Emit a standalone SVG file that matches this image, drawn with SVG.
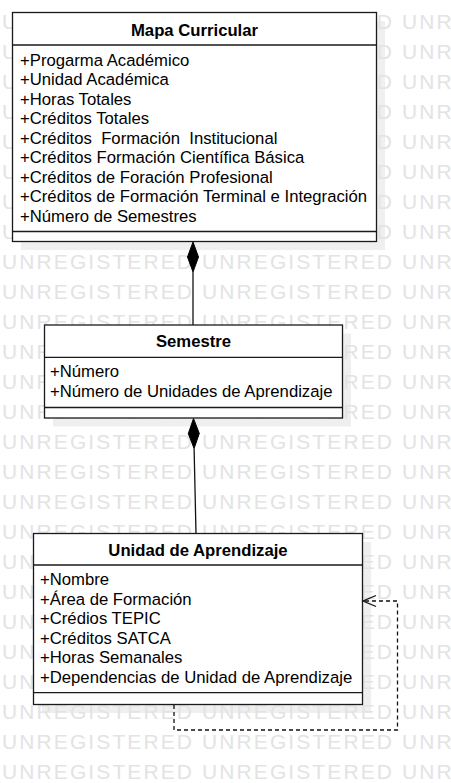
<svg xmlns="http://www.w3.org/2000/svg" width="451" height="783" viewBox="0 0 451 783">
<style>
.bg{fill:#ffffff}
.shadow{fill:#efefef}
.wm{font-family:"Liberation Sans",Arial,sans-serif;font-size:21px;letter-spacing:2.1px;fill:#e3e3e3}
.box{fill:#ffffff;stroke:#1a1a1a;stroke-width:1.3}
.div{stroke:#1a1a1a;stroke-width:1.3;fill:none}
.title{font-family:"Liberation Sans",Arial,sans-serif;font-size:16.7px;font-weight:bold;fill:#000;text-anchor:middle}
.attr{font-family:"Liberation Sans",Arial,sans-serif;font-size:16.7px;fill:#000}
.line{stroke:#111;stroke-width:1.3;fill:none}
.dash{stroke:#111;stroke-width:1.3;fill:none;stroke-dasharray:4 3}
.dia{fill:#000;stroke:#000;stroke-width:1}
</style>
<rect class="bg" x="0" y="0" width="451" height="783"/>
<g id="shadows">
<rect class="shadow" x="21" y="21" width="364" height="229"/>
<rect class="shadow" x="53" y="333.5" width="298" height="93"/>
<rect class="shadow" x="42" y="542" width="329" height="171"/>
</g>
<g id="watermark">
<text class="wm" x="2" y="29">UNREGISTERED UNREGISTERED UNR</text>
<text class="wm" x="2" y="59">UNREGISTERED UNREGISTERED UNR</text>
<text class="wm" x="2" y="89">UNREGISTERED UNREGISTERED UNR</text>
<text class="wm" x="2" y="119">UNREGISTERED UNREGISTERED UNR</text>
<text class="wm" x="2" y="149">UNREGISTERED UNREGISTERED UNR</text>
<text class="wm" x="2" y="179">UNREGISTERED UNREGISTERED UNR</text>
<text class="wm" x="2" y="209">UNREGISTERED UNREGISTERED UNR</text>
<text class="wm" x="2" y="239">UNREGISTERED UNREGISTERED UNR</text>
<text class="wm" x="2" y="269">UNREGISTERED UNREGISTERED UNR</text>
<text class="wm" x="2" y="299">UNREGISTERED UNREGISTERED UNR</text>
<text class="wm" x="2" y="329">UNREGISTERED UNREGISTERED UNR</text>
<text class="wm" x="2" y="359">UNREGISTERED UNREGISTERED UNR</text>
<text class="wm" x="2" y="389">UNREGISTERED UNREGISTERED UNR</text>
<text class="wm" x="2" y="419">UNREGISTERED UNREGISTERED UNR</text>
<text class="wm" x="2" y="449">UNREGISTERED UNREGISTERED UNR</text>
<text class="wm" x="2" y="479">UNREGISTERED UNREGISTERED UNR</text>
<text class="wm" x="2" y="509">UNREGISTERED UNREGISTERED UNR</text>
<text class="wm" x="2" y="539">UNREGISTERED UNREGISTERED UNR</text>
<text class="wm" x="2" y="569">UNREGISTERED UNREGISTERED UNR</text>
<text class="wm" x="2" y="599">UNREGISTERED UNREGISTERED UNR</text>
<text class="wm" x="2" y="629">UNREGISTERED UNREGISTERED UNR</text>
<text class="wm" x="2" y="659">UNREGISTERED UNREGISTERED UNR</text>
<text class="wm" x="2" y="689">UNREGISTERED UNREGISTERED UNR</text>
<text class="wm" x="2" y="719">UNREGISTERED UNREGISTERED UNR</text>
<text class="wm" x="2" y="749">UNREGISTERED UNREGISTERED UNR</text>
<text class="wm" x="2" y="779">UNREGISTERED UNREGISTERED UNR</text>
</g>
<g id="mapa-curricular">
<rect class="box" x="12.5" y="12.5" width="364" height="229"/>
<line class="div" x1="12.5" y1="45" x2="376.5" y2="45"/>
<line class="div" x1="12.5" y1="231.5" x2="376.5" y2="231.5"/>
<text class="title" x="194.5" y="35.5">Mapa Curricular</text>
<text class="attr" x="20" y="65.5">+Progarma Académico</text>
<text class="attr" x="20" y="85">+Unidad Académica</text>
<text class="attr" x="20" y="104.5">+Horas Totales</text>
<text class="attr" x="20" y="124">+Créditos Totales</text>
<text class="attr" x="20" y="143.5" xml:space="preserve">+Créditos  Formación  Institucional</text>
<text class="attr" x="20" y="163">+Créditos Formación Científica Básica</text>
<text class="attr" x="20" y="182.5">+Créditos de Foración Profesional</text>
<text class="attr" x="20" y="202">+Créditos de Formación Terminal e Integración</text>
<text class="attr" x="20" y="221.5">+Número de Semestres</text>
</g>
<g id="semestre">
<rect class="box" x="44.5" y="325" width="298" height="93"/>
<line class="div" x1="44.5" y1="357.3" x2="342.5" y2="357.3"/>
<line class="div" x1="44.5" y1="407.5" x2="342.5" y2="407.5"/>
<text class="title" x="193.5" y="347">Semestre</text>
<text class="attr" x="50" y="377">+Número</text>
<text class="attr" x="50" y="396.5">+Número de Unidades de Aprendizaje</text>
</g>
<g id="unidad-de-aprendizaje">
<rect class="box" x="33.5" y="533.5" width="329" height="171"/>
<line class="div" x1="33.5" y1="565" x2="362.5" y2="565"/>
<line class="div" x1="33.5" y1="692.7" x2="362.5" y2="692.7"/>
<text class="title" x="198" y="555.7">Unidad de Aprendizaje</text>
<text class="attr" x="40" y="585">+Nombre</text>
<text class="attr" x="40" y="604.5">+Área de Formación</text>
<text class="attr" x="40" y="624">+Crédios TEPIC</text>
<text class="attr" x="40" y="643.5">+Créditos SATCA</text>
<text class="attr" x="40" y="663">+Horas Semanales</text>
<text class="attr" x="40" y="682.5">+Dependencias de Unidad de Aprendizaje</text>
</g>
<g id="connectors">
<line class="line" x1="193" y1="272" x2="193" y2="325"/>
<polygon class="dia" points="193,242 187.5,257 193,272 198.5,257"/>
<line class="line" x1="194.1" y1="448.5" x2="196" y2="533.5"/>
<polygon class="dia" points="193.5,418.5 188.3,433.6 194.1,448.5 199.3,433.4"/>
<path class="dash" d="M174,705 V730 H397.5 V601 H364"/>
<polyline class="line" points="376,595.5 363,601 376,606.5"/>
</g>
</svg>
